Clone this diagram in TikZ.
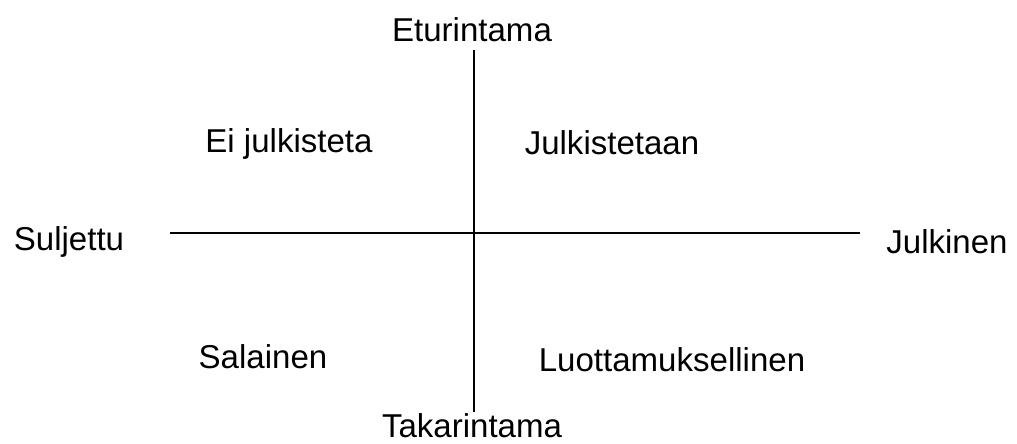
\documentclass[tikz,border=0pt]{standalone}
\usepackage{fontspec}
\setmainfont{Liberation Sans}
\usetikzlibrary{positioning}
\tikzset{
  nelio/.style={font=\fontsize{23.5}{27}\selectfont, inner sep=0pt, anchor=base},
  akseli/.style={line width=1.7pt, black},
}

\begin{document}
\begin{tikzpicture}[x=0.025cm, y=-0.025cm]
  \useasboundingbox (0,0) rectangle (1017,443);

  % Akselien päät
  \node[nelio] (etu) at (472,41) {Eturintama};
  \node[nelio] (taka) at (472,437) {Takarintama};
  \node[nelio] (sul) at (69,250) {Suljettu};
  \node[nelio] (jul) at (947,253) {Julkinen};

  \coordinate (ylos) at (474,50);
  \coordinate (alas) at (474,412);
  \coordinate (vas) at (170,233);
  \coordinate (oik) at (860,233);

  % Lohkot
  \node[nelio] (eijul) at (289,152) {Ei julkisteta};
  \node[nelio] (julk) at (612,154) {Julkistetaan};
  \node[nelio] (sala) at (263,368) {Salainen};
  \node[nelio] (luot) at (672,371) {Luottamuksellinen};

  % Akselit
  \draw[akseli] (ylos) -- (alas);
  \draw[akseli] (vas) -- (oik);
\end{tikzpicture}
\end{document}
